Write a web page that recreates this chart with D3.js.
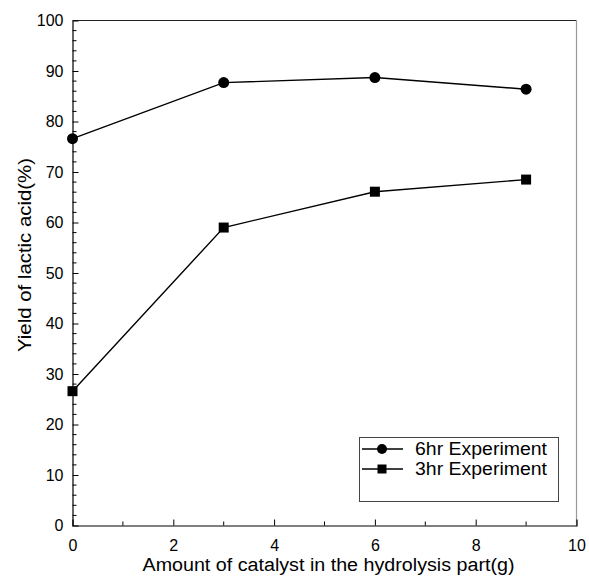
<!DOCTYPE html>
<html><head><meta charset="utf-8">
<script src="https://cdn.jsdelivr.net/npm/d3@7"></script>
<style>body{margin:0;background:#fff;} text{font-family:"Liberation Sans",Arial,sans-serif;fill:#000;}</style>
</head><body>
<svg id="chart" width="589" height="576"></svg>
<script>
const xValues = [0, 3, 6, 9];
const series6hr = [76.6, 87.7, 88.7, 86.4];
const series3hr = [26.6, 59.0, 66.1, 68.5];
const seriesNames = ["6hr Experiment", "3hr Experiment"];
const xTicks = [0, 2, 4, 6, 8, 10];
const yTicks = [0, 10, 20, 30, 40, 50, 60, 70, 80, 90, 100];
const xLabel = "Amount of catalyst in the hydrolysis part(g)";
const yLabel = "Yield of lactic acid(%)";

const svg = d3.select("#chart");
const L = 72.5, R = 576.5, T = 20.5, B = 525.5;
const x = d3.scaleLinear().domain([0, 10]).range([L, R]);
const y = d3.scaleLinear().domain([0, 100]).range([B, T]);

// frame top/right
svg.append("line").attr("x1", L).attr("x2", R).attr("y1", T).attr("y2", T).attr("stroke", "#222").attr("stroke-width", 1.2);
svg.append("line").attr("x1", R).attr("x2", R).attr("y1", T).attr("y2", B).attr("stroke", "#999").attr("stroke-width", 1.2);

// x axis
const xMinor = d3.range(1, 10, 2);
const gx = svg.append("g").attr("transform", `translate(0,${B})`);
gx.call(d3.axisBottom(x).tickValues(xTicks).tickSize(-6).tickPadding(14).tickFormat(d3.format("d")));
gx.selectAll(".tick").filter(d => d === 0 || d === 10).select("line").remove();
gx.selectAll(".tick text").attr("font-size", 16).attr("font-family", "Liberation Sans, Arial, sans-serif");
gx.select(".domain").attr("stroke", "#000").attr("stroke-width", 1.2);
gx.selectAll(".minor").data(xMinor).enter().append("line")
  .attr("x1", d => x(d)).attr("x2", d => x(d)).attr("y1", 0).attr("y2", -4).attr("stroke", "#000");

// y axis
const yMinor = d3.range(2, 100, 2).filter(d => d % 10 !== 0);
const gy = svg.append("g").attr("transform", `translate(${L},0)`);
gy.call(d3.axisLeft(y).tickValues(yTicks).tickSize(-6).tickPadding(9).tickFormat(d3.format("d")));
gy.selectAll(".tick").filter(d => d === 0 || d === 100).select("line").remove();
gy.selectAll(".tick text").attr("font-size", 16).attr("font-family", "Liberation Sans, Arial, sans-serif");
gy.select(".domain").attr("stroke", "#000").attr("stroke-width", 1.2);
gy.selectAll(".minor").data(yMinor).enter().append("line")
  .attr("y1", d => y(d)).attr("y2", d => y(d)).attr("x1", 0).attr("x2", 4).attr("stroke", "#000");

// axis labels
svg.append("text").attr("x", 328.5).attr("y", 571).attr("text-anchor", "middle")
  .attr("font-size", 18).attr("textLength", 372).attr("lengthAdjust", "spacingAndGlyphs").text(xLabel);
svg.append("text").attr("transform", `translate(31,${255}) rotate(-90)`).attr("text-anchor", "middle")
  .attr("font-size", 18).attr("textLength", 194).attr("lengthAdjust", "spacingAndGlyphs").text(yLabel);

// lines
const line = d3.line().x((d, i) => x(xValues[i])).y(d => y(d));
[series6hr, series3hr].forEach(s => {
  svg.append("path").datum(s).attr("d", line).attr("fill", "none").attr("stroke", "#000").attr("stroke-width", 1.4);
});
svg.selectAll(".c6").data(series6hr).enter().append("circle")
  .attr("cx", (d, i) => x(xValues[i])).attr("cy", d => y(d)).attr("r", 5.5).attr("fill", "#000");
svg.selectAll(".s3").data(series3hr).enter().append("rect")
  .attr("x", (d, i) => x(xValues[i]) - 5).attr("y", d => y(d) - 5).attr("width", 10).attr("height", 10).attr("fill", "#000");

// legend
const lg = svg.append("g");
lg.append("rect").attr("x", 359.5).attr("y", 437.5).attr("width", 199).attr("height", 64)
  .attr("fill", "#fff").attr("stroke", "#444").attr("stroke-width", 1);
seriesNames.forEach((n, i) => {
  const yy = 449 + i * 20;
  lg.append("line").attr("x1", 362).attr("x2", 403).attr("y1", yy).attr("y2", yy).attr("stroke", "#000").attr("stroke-width", 1.4);
  if (i === 0) lg.append("circle").attr("cx", 382).attr("cy", yy).attr("r", 5).attr("fill", "#000");
  else lg.append("rect").attr("x", 377.5).attr("y", yy - 4.5).attr("width", 9).attr("height", 9).attr("fill", "#000");
  lg.append("text").attr("x", 415).attr("y", yy + 6).attr("font-size", 18)
    .attr("textLength", 132).attr("lengthAdjust", "spacingAndGlyphs").text(n);
});
</script>
</body></html>
